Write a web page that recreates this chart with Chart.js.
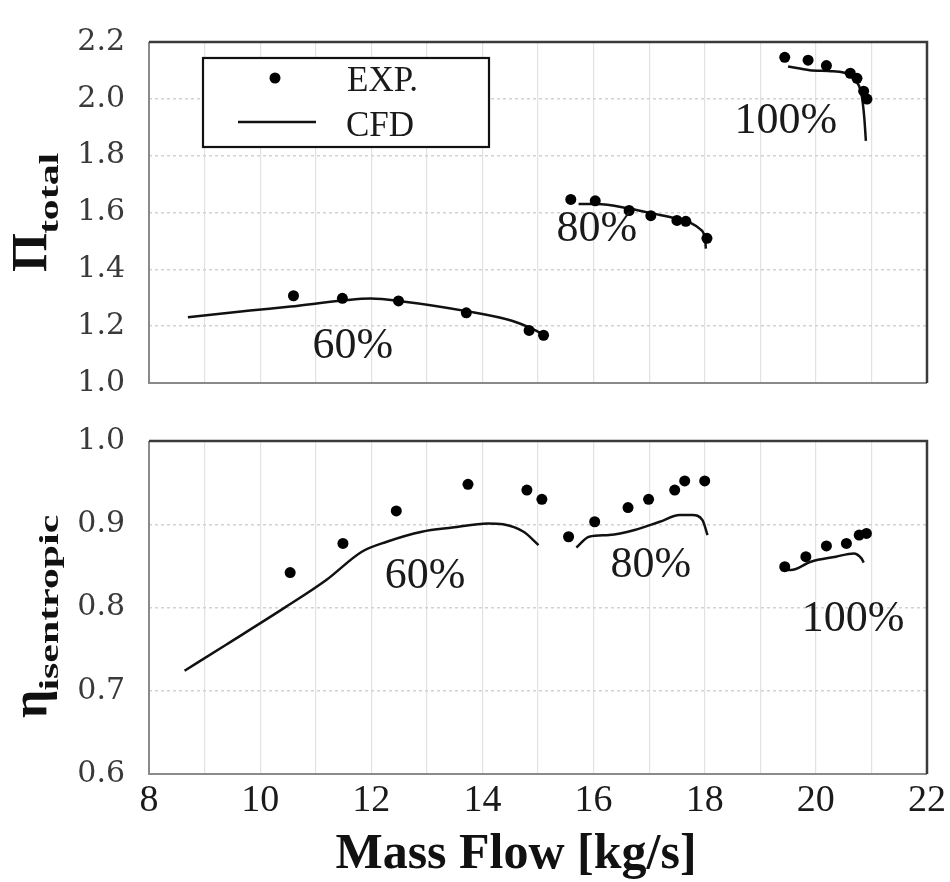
<!DOCTYPE html>
<html><head><meta charset="utf-8">
<script src="https://cdn.jsdelivr.net/npm/chart.js@4.4.0/dist/chart.umd.min.js"></script>
<style>
html,body{margin:0;padding:0;background:#fff;}
#wrap{position:relative;width:950px;height:882px;}
canvas{position:absolute;left:0;top:0;}
</style></head><body>
<div id="wrap"><canvas id="c1"></canvas><canvas id="c2"></canvas></div>
<script>
// ---------- DATA ----------
const xTicks = [8, 10, 12, 14, 16, 18, 20, 22];
const prTicks = [1.0, 1.2, 1.4, 1.6, 1.8, 2.0, 2.2];
const effTicks = [0.6, 0.7, 0.8, 0.9, 1.0];
const speedLabels = ['60%', '80%', '100%'];

// Total pressure ratio (top panel)
const exp60MF = [10.60, 11.48, 12.49, 13.71, 14.84, 15.10];
const exp60PR = [1.307, 1.298, 1.289, 1.247, 1.185, 1.168];
const cfd60MF = [8.70, 9.82, 10.55, 11.49, 11.99, 12.53, 13.71, 14.53, 14.89, 15.16];
const cfd60PR = [1.231, 1.255, 1.269, 1.290, 1.297, 1.288, 1.253, 1.219, 1.191, 1.163];

const exp80MF = [15.59, 16.03, 16.64, 17.03, 17.50, 17.66, 18.04];
const exp80PR = [1.646, 1.641, 1.607, 1.589, 1.572, 1.569, 1.509];
const cfd80MF = [15.73, 16.06, 16.66, 17.08, 17.50, 17.74, 17.92, 18.01, 18.02];
const cfd80PR = [1.630, 1.630, 1.613, 1.596, 1.578, 1.564, 1.541, 1.502, 1.473];

const exp100MF = [19.44, 19.86, 20.19, 20.62, 20.74, 20.86, 20.92];
const exp100PR = [2.146, 2.136, 2.117, 2.090, 2.072, 2.027, 1.999];
const cfd100MF = [19.50, 19.89, 20.31, 20.55, 20.73, 20.82, 20.87, 20.90];
const cfd100PR = [2.114, 2.101, 2.097, 2.089, 2.061, 2.017, 1.937, 1.852];

// Isentropic efficiency (bottom panel)
const exp60EffMF = [10.54, 11.49, 12.45, 13.74, 14.80, 15.07];
const exp60Eff = [0.842, 0.877, 0.916, 0.948, 0.941, 0.930];
const cfd60EffMF = [8.64, 9.38, 10.47, 11.19, 11.83, 12.28, 12.91, 13.46, 14.10, 14.37, 14.74, 15.01];
const cfd60Eff = [0.724, 0.755, 0.801, 0.833, 0.867, 0.879, 0.891, 0.896, 0.901, 0.900, 0.891, 0.875];

const exp80EffMF = [15.55, 16.02, 16.62, 16.99, 17.46, 17.64, 18.00];
const exp80Eff = [0.885, 0.903, 0.920, 0.930, 0.941, 0.952, 0.952];
const cfd80EffMF = [15.69, 15.92, 16.28, 16.74, 17.19, 17.55, 17.78, 17.96, 18.05];
const cfd80Eff = [0.872, 0.885, 0.887, 0.893, 0.903, 0.911, 0.911, 0.905, 0.887];

const exp100EffMF = [19.44, 19.82, 20.19, 20.55, 20.78, 20.91];
const exp100Eff = [0.849, 0.861, 0.874, 0.877, 0.887, 0.889];
const cfd100EffMF = [19.37, 19.55, 19.91, 20.36, 20.68, 20.82, 20.86];
const cfd100Eff = [0.845, 0.845, 0.855, 0.861, 0.865, 0.859, 0.854];

// label anchor (data coordinates) for speed-line annotations
const prLabelMF = [11.67, 16.06, 19.46];
const prLabelY = [1.129, 1.542, 1.922];
const effLabelMF = [12.97, 17.03, 20.67];
const effLabelY = [0.837, 0.850, 0.786];

// ---------- HELPERS ----------
const zip = (xs, ys) => xs.map((x, i) => ({x: x, y: ys[i]}));
const SERIF = "'Liberation Serif', 'Times New Roman', serif";

function expSet(xs, ys) {
  return {type: 'scatter', data: zip(xs, ys), showLine: false, pointRadius: 5.5,
    pointBackgroundColor: '#000', pointBorderWidth: 0, borderColor: '#000', order: 1};
}
function cfdSet(xs, ys) {
  return {type: 'scatter', data: zip(xs, ys), showLine: true, pointRadius: 0,
    borderColor: '#111', borderWidth: 2.5, cubicInterpolationMode: 'monotone', order: 2};
}

const framePlugin = {
  id: 'frame',
  beforeDatasetsDraw(chart) {
    const a = chart.chartArea, ctx = chart.ctx;
    ctx.save();
    ctx.strokeStyle = '#8a8a8a'; ctx.lineWidth = 2;
    ctx.beginPath(); ctx.moveTo(a.left, a.top); ctx.lineTo(a.left, a.bottom); ctx.lineTo(a.right, a.bottom); ctx.stroke();
    ctx.strokeStyle = '#3a3a3a'; ctx.lineWidth = 2.5;
    ctx.beginPath(); ctx.moveTo(a.left, a.top); ctx.lineTo(a.right, a.top); ctx.lineTo(a.right, a.bottom); ctx.stroke();
    ctx.restore();
  }
};

function labelPlugin(xs, ys) {
  return {
    id: 'speedLabels',
    afterDatasetsDraw(chart) {
      const ctx = chart.ctx, sx = chart.scales.x, sy = chart.scales.y;
      ctx.save();
      ctx.font = '44px ' + SERIF; ctx.fillStyle = '#1a1a1a';
      ctx.textAlign = 'center'; ctx.textBaseline = 'middle';
      speedLabels.forEach((t, i) => ctx.fillText(t, sx.getPixelForValue(xs[i]), sy.getPixelForValue(ys[i])));
      ctx.restore();
    }
  };
}

function yTitlePlugin(main, sub, x0, y0, mainSize, subSize, subStretch, subOffset) {
  return {
    id: 'ytitle',
    afterDraw(chart) {
      const ctx = chart.ctx;
      ctx.save();
      ctx.translate(x0, y0);
      ctx.rotate(-Math.PI / 2);
      ctx.fillStyle = '#111';
      ctx.textBaseline = 'alphabetic'; ctx.textAlign = 'left';
      ctx.font = 'bold ' + mainSize + 'px ' + SERIF;
      ctx.fillText(main, 0, 0);
      const w = ctx.measureText(main).width;
      ctx.translate(w - 1, subOffset);
      ctx.scale(subStretch, 1);
      ctx.font = 'bold ' + subSize + 'px ' + SERIF;
      ctx.fillText(sub, 0, 0);
      ctx.restore();
    }
  };
}

const legendPlugin = {
  id: 'customLegend',
  afterDatasetsDraw(chart) {
    const ctx = chart.ctx;
    ctx.save();
    ctx.fillStyle = '#fff';
    ctx.fillRect(203, 58, 286, 89);
    ctx.strokeStyle = '#111'; ctx.lineWidth = 2.2;
    ctx.strokeRect(203, 58, 286, 89);
    ctx.fillStyle = '#000';
    ctx.beginPath(); ctx.arc(275, 78, 5.5, 0, Math.PI * 2); ctx.fill();
    ctx.strokeStyle = '#111'; ctx.lineWidth = 2.5;
    ctx.beginPath(); ctx.moveTo(238, 122); ctx.lineTo(316, 122); ctx.stroke();
    ctx.font = '35px ' + SERIF; ctx.fillStyle = '#1a1a1a';
    ctx.textAlign = 'left'; ctx.textBaseline = 'alphabetic';
    ctx.fillText('EXP.', 347, 91);
    ctx.fillText('CFD', 346, 136);
    ctx.restore();
  }
};

const xTitlePlugin = {
  id: 'xtitle',
  afterDraw(chart) {
    const ctx = chart.ctx;
    ctx.save();
    ctx.font = 'bold 50px ' + SERIF; ctx.fillStyle = '#111';
    ctx.textAlign = 'center'; ctx.textBaseline = 'alphabetic';
    ctx.fillText('Mass Flow [kg/s]', 516, 868);
    ctx.restore();
  }
};

function xScale(showLabels, fitHeight) {
  return {
    type: 'linear', min: xTicks[0], max: xTicks[xTicks.length - 1],
    afterFit: s => { s.height = fitHeight; },
    afterBuildTicks: s => { s.ticks = []; for (let v = xTicks[0]; v <= xTicks[xTicks.length - 1]; v++) s.ticks.push({value: v}); },
    ticks: {display: showLabels, autoSkip: false, maxRotation: 0, padding: 4, color: '#1a1a1a',
      font: {family: SERIF, size: 38},
      callback: v => xTicks.includes(v) ? String(v) : ''},
    grid: {color: '#e2e2e2', lineWidth: 1.2, drawTicks: false},
    border: {display: false}
  };
}
function yScale(ticks) {
  return {
    type: 'linear', min: ticks[0], max: ticks[ticks.length - 1],
    afterFit: s => { s.width = 149; },
    afterBuildTicks: s => { s.ticks = ticks.map(v => ({value: v})); },
    ticks: {padding: 24, color: '#3a3a3a', font: {family: "'DejaVu Serif', serif", size: 30},
      callback: v => Number(v).toFixed(1)},
    grid: {color: '#d2d2d2', lineWidth: 1.5, drawTicks: false},
    border: {display: false, dash: [3, 3]}
  };
}

const common = {
  responsive: false, animation: false, devicePixelRatio: 1,
  plugins: {legend: {display: false}, tooltip: {enabled: false}}
};

const c1 = document.getElementById('c1'); c1.width = 950; c1.height = 882;
const c2 = document.getElementById('c2'); c2.width = 950; c2.height = 882;

new Chart(c1, {
  type: 'scatter',
  data: {datasets: [
    expSet(exp60MF, exp60PR), cfdSet(cfd60MF, cfd60PR),
    expSet(exp80MF, exp80PR), cfdSet(cfd80MF, cfd80PR),
    expSet(exp100MF, exp100PR), cfdSet(cfd100MF, cfd100PR)
  ]},
  options: Object.assign({}, common, {
    layout: {padding: {left: 0, right: 23, top: 29, bottom: 882 - 383}},
    scales: {x: xScale(false, 0), y: yScale(prTicks)}
  }),
  plugins: [framePlugin, labelPlugin(prLabelMF, prLabelY), legendPlugin,
    yTitlePlugin('\u03A0', 'total', 46, 272, 50, 27, 1.55, 12)]
});

new Chart(c2, {
  type: 'scatter',
  data: {datasets: [
    expSet(exp60EffMF, exp60Eff), cfdSet(cfd60EffMF, cfd60Eff),
    expSet(exp80EffMF, exp80Eff), cfdSet(cfd80EffMF, cfd80Eff),
    expSet(exp100EffMF, exp100Eff), cfdSet(cfd100EffMF, cfd100Eff)
  ]},
  options: Object.assign({}, common, {
    layout: {padding: {left: 0, right: 23, top: 441, bottom: 0}},
    scales: {x: xScale(true, 882 - 774), y: yScale(effTicks)}
  }),
  plugins: [framePlugin, labelPlugin(effLabelMF, effLabelY), xTitlePlugin,
    yTitlePlugin('\u03B7', 'isentropic', 46, 718, 50, 27, 1.55, 12)]
});
</script>
</body></html>
